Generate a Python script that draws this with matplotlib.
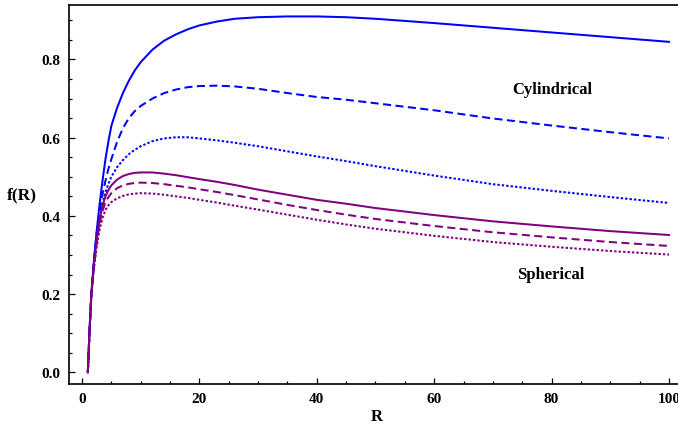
import matplotlib
matplotlib.use("Agg")
import matplotlib.pyplot as plt
from matplotlib.ticker import MultipleLocator

# ---- data ----
R = [1, 1.3, 1.6, 2, 2.5, 3, 3.5, 4, 4.5, 5, 6, 7, 8, 9, 10, 12, 14, 16, 18, 20,
     23, 26, 30, 35, 40, 45, 50, 60, 70, 80, 90, 100]

f_blue_solid = [0, 0.11, 0.20, 0.28, 0.36, 0.43, 0.49, 0.545, 0.59, 0.63, 0.677, 0.715,
                0.746, 0.772, 0.793, 0.825, 0.848, 0.864, 0.877, 0.887,
                0.897, 0.904, 0.908, 0.910, 0.910, 0.908, 0.904, 0.893, 0.881, 0.869, 0.857, 0.845]
f_blue_dashed = [0, 0.11, 0.20, 0.28, 0.355, 0.41, 0.455, 0.49, 0.52, 0.545, 0.59, 0.625,
                 0.65, 0.668, 0.681, 0.700, 0.714, 0.723, 0.729, 0.732,
                 0.733, 0.731, 0.725, 0.714, 0.704, 0.697, 0.688, 0.670, 0.649, 0.631, 0.614, 0.598]
f_blue_dotted = [0, 0.11, 0.20, 0.27, 0.34, 0.39, 0.43, 0.46, 0.482, 0.50, 0.525, 0.543,
                 0.558, 0.569, 0.578, 0.591, 0.598, 0.601, 0.601, 0.598,
                 0.593, 0.587, 0.578, 0.565, 0.552, 0.540, 0.527, 0.503, 0.481, 0.464, 0.448, 0.433]
f_purple_solid = [0, 0.11, 0.20, 0.27, 0.34, 0.39, 0.425, 0.45, 0.466, 0.478, 0.493, 0.502,
                  0.507, 0.510, 0.511, 0.511, 0.508, 0.504, 0.499, 0.494,
                  0.487, 0.479, 0.467, 0.454, 0.441, 0.431, 0.420, 0.402, 0.386, 0.373, 0.361, 0.351]
f_purple_dashed = [0, 0.11, 0.20, 0.265, 0.33, 0.38, 0.412, 0.435, 0.448, 0.458, 0.471, 0.478,
                   0.482, 0.484, 0.485, 0.484, 0.481, 0.477, 0.473, 0.468,
                   0.461, 0.453, 0.442, 0.428, 0.415, 0.403, 0.392, 0.374, 0.358, 0.345, 0.333, 0.323]
f_purple_dotted = [0, 0.11, 0.20, 0.26, 0.32, 0.365, 0.395, 0.415, 0.427, 0.435, 0.445, 0.451,
                   0.455, 0.457, 0.458, 0.457, 0.454, 0.450, 0.446, 0.441,
                   0.434, 0.426, 0.416, 0.403, 0.390, 0.378, 0.367, 0.349, 0.333, 0.321, 0.310, 0.301]

x_ticks = [0, 20, 40, 60, 80, 100]
y_ticks = [0.0, 0.2, 0.4, 0.6, 0.8]

# ---- styling ----
plt.rcParams['font.family'] = ['Liberation Serif', 'DejaVu Serif']
plt.rcParams['font.weight'] = 'bold'

BLUE = (0, 0, 1)
PURPLE = (0.5, 0, 0.5)
LW = 1.45
DASH = (0, (4.0, 2.2))
DOT = (0, (1.2, 1.0))

fig = plt.figure(figsize=(6.78, 4.31), dpi=100)
ax = fig.add_axes([69/678, 1 - 385/431, 614.7/678, (385 - 5.7)/431])

ax.plot(R, f_blue_solid, color=BLUE, lw=LW)
ax.plot(R, f_blue_dashed, color=BLUE, lw=LW, linestyle=DASH)
ax.plot(R, f_blue_dotted, color=BLUE, lw=LW, linestyle=DOT)
ax.plot(R, f_purple_solid, color=PURPLE, lw=LW)
ax.plot(R, f_purple_dashed, color=PURPLE, lw=LW, linestyle=DASH)
ax.plot(R, f_purple_dotted, color=PURPLE, lw=LW, linestyle=DOT)

ax.set_xlim(-2.21, 102.5)
ax.set_ylim(-0.030, 0.940)

ax.set_xticks(x_ticks)
ax.set_xticklabels([str(v) for v in x_ticks])
ax.set_yticks(y_ticks)
ax.set_yticklabels([f"{v:.1f}" for v in y_ticks])
ax.xaxis.set_minor_locator(MultipleLocator(5))
ax.yaxis.set_minor_locator(MultipleLocator(0.05))
ax.tick_params(which='both', direction='in', top=False, right=False, labelsize=11, width=0.9)
ax.tick_params(which='major', length=4, pad=6)
ax.tick_params(which='minor', length=2.5)
for lab in ax.get_xticklabels() + ax.get_yticklabels():
    lab.set_fontweight('bold')
for s in ax.spines.values():
    s.set_linewidth(1.2)

ax.set_xlabel('R', fontsize=12, fontweight='bold', labelpad=2)
ax.set_ylabel('f(R)', fontsize=12.5, fontweight='bold', rotation=0, labelpad=14, va='center')

ax.text(80.1, 0.725, 'Cylindrical', fontsize=12, fontweight='bold', ha='center', va='center')
ax.text(79.9, 0.251, 'Spherical', fontsize=12, fontweight='bold', ha='center', va='center')

fig.savefig('out.png', dpi=100)
